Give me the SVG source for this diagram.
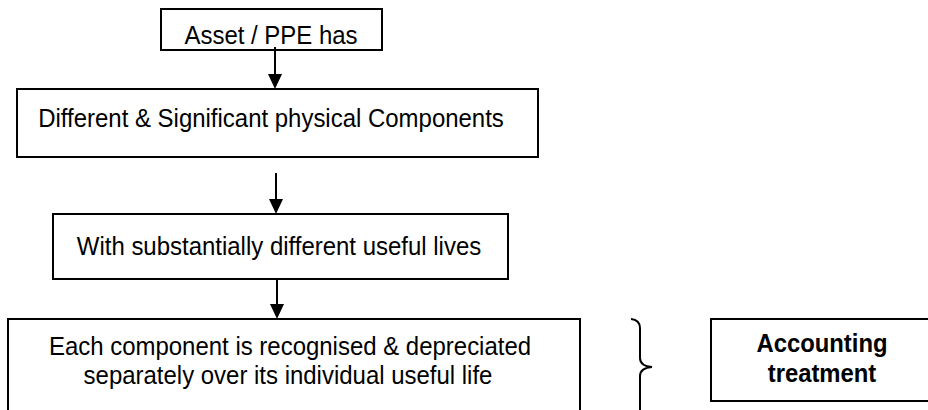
<svg xmlns="http://www.w3.org/2000/svg" width="928" height="410" viewBox="0 0 928 410">
<defs>
<style>
.box{fill:#fff;stroke:#000;stroke-width:2}
.t{font-family:"Liberation Sans",Arial,sans-serif;font-size:25.5px;fill:#000;text-anchor:middle}
.b{font-weight:bold;font-size:26.5px}
.ln{stroke:#000;stroke-width:2;fill:none}
.ah{fill:#000;stroke:none}
</style>
</defs>
<rect width="928" height="410" fill="#fff"/>
<g id="asset">
<rect class="box" x="161" y="9" width="221" height="41"/>
<text class="t" transform="translate(271,44) scale(0.94,1)">Asset / PPE has</text>
</g>
<g id="components">
<rect class="box" x="17" y="89" width="521" height="68"/>
<text class="t" transform="translate(271,127) scale(0.94,1)">Different &amp; Significant physical Components</text>
</g>
<g id="lives">
<rect class="box" x="53" y="214" width="455" height="65"/>
<text class="t" transform="translate(279,255) scale(0.94,1)">With substantially different useful lives</text>
</g>
<g id="each">
<rect class="box" x="8" y="319" width="572" height="100"/>
<text class="t" transform="translate(290,355) scale(0.94,1)">Each component is recognised &amp; depreciated</text>
<text class="t" transform="translate(288,384) scale(0.94,1)">separately over its individual useful life</text>
</g>
<g id="accounting">
<rect class="box" x="711" y="319" width="222" height="82"/>
<text class="t b" transform="translate(822,352) scale(0.9,1)">Accounting</text>
<text class="t b" transform="translate(822,382) scale(0.9,1)">treatment</text>
</g>
<g id="connectors">
<line class="ln" x1="275" y1="47" x2="275" y2="76"/>
<path class="ah" d="M268,74 L282,74 L275,89 Z"/>
<line class="ln" x1="276" y1="173" x2="276" y2="201"/>
<path class="ah" d="M269,199 L283,199 L276,214 Z"/>
<line class="ln" x1="277" y1="279" x2="277" y2="306"/>
<path class="ah" d="M270,304 L284,304 L277,319 Z"/>
<path class="ln" d="M631,319 Q640,320 640,328 L640,358 Q640,366 652,367 Q640,368 640,376 L640,412"/>
</g>
</svg>
